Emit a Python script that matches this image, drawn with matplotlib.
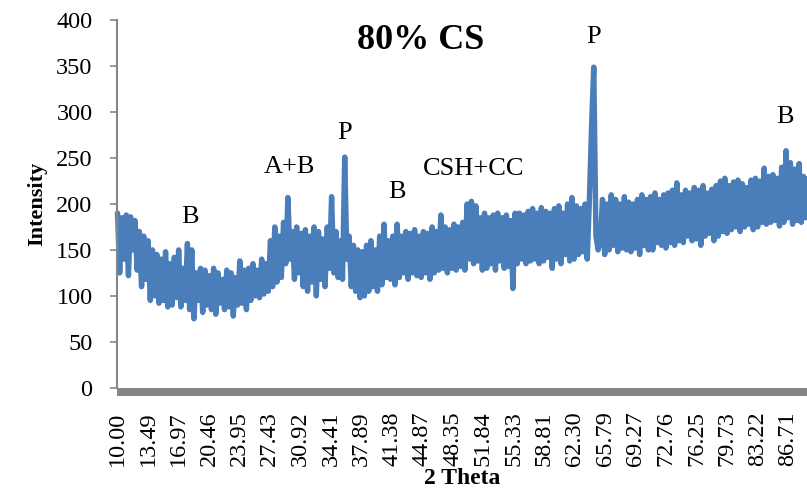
import matplotlib
matplotlib.use("Agg")
import matplotlib.pyplot as plt
from matplotlib.patches import Rectangle
import numpy as np

# ---- data ----
start_2theta = 10.0
step_2theta = 0.25
intensity = [
    190, 125, 185, 140, 188, 122, 186, 150, 182, 128, 170, 110, 165, 118, 160, 95,
    150, 100, 145, 92, 140, 95, 148, 88, 135, 90, 142, 98, 150, 88, 130, 95,
    157, 85, 150, 75, 125, 95, 130, 82, 128, 90, 122, 85, 130, 80, 125, 92,
    118, 85, 128, 88, 125, 78, 120, 90, 138, 92, 128, 85, 130, 95, 135, 100,
    128, 98, 140, 102, 135, 105, 160, 110, 175, 115, 165, 120, 180, 135, 207, 140,
    170, 118, 175, 125, 168, 110, 172, 105, 165, 115, 175, 100, 170, 118, 162, 110,
    175, 130, 208, 125, 170, 120, 160, 118, 251, 140, 165, 110, 155, 105, 150, 98,
    148, 100, 155, 105, 160, 110, 150, 105, 165, 112, 178, 120, 160, 118, 165, 112,
    178, 120, 165, 125, 170, 118, 168, 125, 172, 122, 165, 120, 170, 125, 168, 118,
    175, 125, 170, 128, 188, 130, 175, 125, 172, 130, 178, 128, 175, 132, 180, 128,
    200, 140, 203, 135, 198, 138, 185, 128, 190, 130, 185, 135, 188, 128, 190, 138,
    185, 130, 188, 132, 182, 108, 190, 135, 190, 140, 188, 135, 192, 138, 195, 140,
    190, 135, 196, 138, 192, 142, 190, 130, 195, 140, 198, 135, 190, 145, 200, 138,
    207, 140, 198, 145, 195, 148, 200, 140, 205, 285, 349, 165, 150, 160, 205, 145,
    200, 150, 210, 155, 205, 148, 200, 152, 208, 150, 202, 148, 200, 152, 205, 145,
    210, 155, 205, 150, 208, 150, 212, 158, 205, 155, 210, 152, 212, 158, 215, 155,
    223, 160, 210, 158, 215, 165, 212, 160, 218, 162, 215, 155, 220, 165, 212, 168,
    216, 160, 220, 165, 225, 170, 228, 168, 220, 172, 224, 175, 226, 170, 222, 175,
    218, 178, 226, 172, 228, 175, 225, 180, 239, 178, 230, 180, 232, 182, 228, 176,
    240, 180, 258, 185, 245, 178, 238, 182, 244, 180, 230, 185, 228, 178, 232, 180,
]
tick_labels = ["10.00", "13.49", "16.97", "20.46", "23.95", "27.43", "30.92",
               "34.41", "37.89", "41.38", "44.87", "48.35", "51.84", "55.33",
               "58.81", "62.30", "65.79", "69.27", "72.76", "76.25", "79.73",
               "83.22", "86.71"]
peak_labels = ["B", "A+B", "P", "B", "CSH+CC", "P", "B"]
peak_label_x = [18.24, 29.69, 35.93, 41.94, 50.76, 64.50, 86.37]
peak_label_y = [185.8, 240.3, 277.3, 213.1, 238.1, 381.8, 294.7]
title_text = "80% CS"

# ---- plot ----
plt.rcParams['font.family'] = ['Liberation Serif', 'DejaVu Serif']
W, H = 807, 501
fig = plt.figure(figsize=(W / 100, H / 100), dpi=100)
ax = fig.add_axes([117.5 / W, 1 - 387.7 / H, (W - 117.5) / W, (387.7 - 20.3) / H])

two_theta = start_2theta + step_2theta * np.arange(len(intensity))
ax.plot(two_theta, intensity, color="#4a7ebb", lw=3.9,
        solid_joinstyle="round", solid_capstyle="round", clip_on=False)

ax.set_xlim(10, 88.9)
ax.set_ylim(0, 400)
ax.set_yticks(np.arange(0, 401, 50))
ax.set_xticks([float(t) for t in tick_labels])
ax.set_xticklabels(tick_labels)

gray = "#868686"
for s in ["top", "right", "bottom"]:
    ax.spines[s].set_visible(False)
ax.spines["left"].set_color(gray)
ax.spines["left"].set_linewidth(1.5)

# thick gray category axis band just below zero
band_h = 8.7 / (387.7 - 20.3)
ax.add_patch(Rectangle((0, -band_h), 1.0, band_h, transform=ax.transAxes,
                       facecolor=gray, edgecolor="none", clip_on=False, zorder=3))

ax.tick_params(axis="y", direction="out", length=5, width=1.2, color=gray,
               labelsize=17.5, pad=13)
ax.tick_params(axis="x", length=0, labelsize=17.5, pad=17, labelrotation=90)

ax.set_ylabel("Intensity", fontsize=16, fontweight="bold", labelpad=6)
ax.set_xlabel("2 Theta", fontsize=17, fontweight="bold", labelpad=1)

for lab, x, y in zip(peak_labels, peak_label_x, peak_label_y):
    ax.text(x, y, lab, fontsize=19, ha="center", va="center")
ax.text(44.69, 378.0, title_text, fontsize=26, fontweight="bold",
        ha="center", va="center")

fig.savefig("out.png", dpi=100)
